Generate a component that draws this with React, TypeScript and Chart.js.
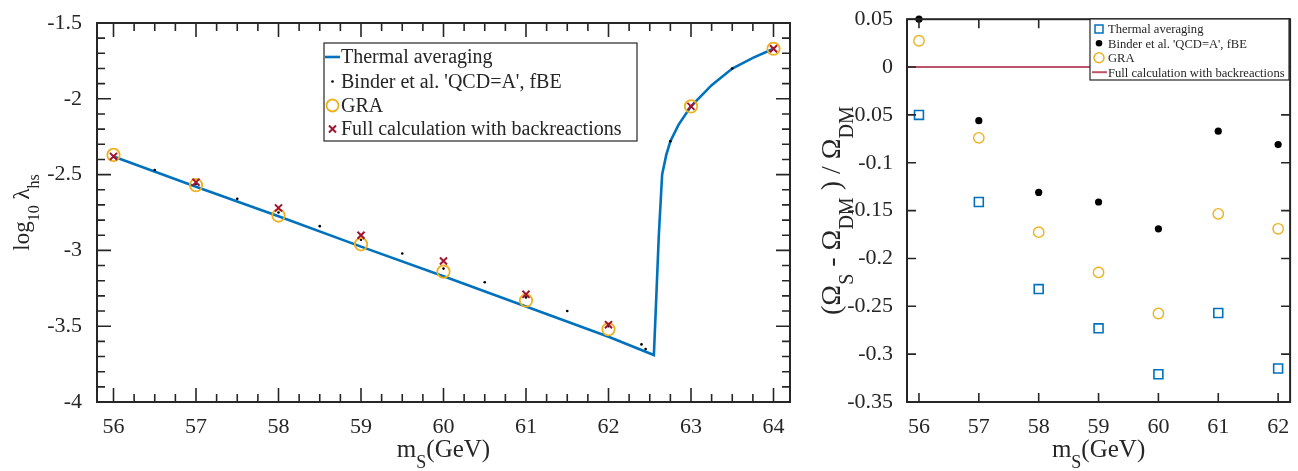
import React, { useEffect, useRef } from "react";
import { Chart, registerables } from "chart.js";

Chart.register(...registerables);

const FONT = '"Liberation Serif", "Times New Roman", serif';
Chart.defaults.font.family = FONT;
const AXIS_COLOR = "#262626";
const BLUE = "#0072BD";
const ORANGE = "#EDB120";
const RED = "#A2142F";
const RED_LINE = "rgba(162,20,47,0.72)";

// ---------- Left panel data ----------
const leftMass = [56, 57, 58, 59, 60, 61, 62, 63, 64];
const thermalMass = [56, 57, 58, 59, 60, 61, 62, 62.55, 62.58, 62.61, 62.65, 62.7, 62.75, 62.85, 63, 63.25, 63.5, 63.75, 64];
const thermalLog = [-2.38, -2.58, -2.775, -2.975, -3.17, -3.37, -3.57, -3.69, -3.3, -2.9, -2.5, -2.37, -2.28, -2.17, -2.05, -1.91, -1.8, -1.73, -1.67];
const binderMass = [56, 56.5, 57, 57.5, 58, 58.5, 59, 59.5, 60, 60.5, 61, 61.5, 62, 62.4, 62.45, 62.75, 63, 63.5, 64];
const binderLog = [-2.38, -2.47, -2.56, -2.66, -2.75, -2.84, -2.93, -3.02, -3.12, -3.21, -3.31, -3.4, -3.5, -3.62, -3.65, -2.28, -2.05, -1.8, -1.67];
const graLog = [-2.37, -2.57, -2.77, -2.96, -3.14, -3.33, -3.52, -2.05, -1.67];
const fullLog = [-2.38, -2.55, -2.72, -2.9, -3.07, -3.29, -3.49, -2.05, -1.67];
const leftXTicks = [56, 57, 58, 59, 60, 61, 62, 63, 64];
const leftYTicks = [-4, -3.5, -3, -2.5, -2, -1.5];

// ---------- Right panel data ----------
const rightMass = [56, 57, 58, 59, 60, 61, 62];
const thermalRel = [-0.05, -0.141, -0.232, -0.273, -0.321, -0.257, -0.315];
const binderRel = [0.05, -0.056, -0.131, -0.141, -0.169, -0.067, -0.081];
const graRel = [0.0275, -0.074, -0.1725, -0.2146, -0.2575, -0.1534, -0.169];
const fullMass = [55.8, 62.2];
const fullRel = [0, 0];
const rightXTicks = [56, 57, 58, 59, 60, 61, 62];
const rightYTicks = [-0.35, -0.3, -0.25, -0.2, -0.15, -0.1, -0.05, 0, 0.05];

type Seg = { t: string; sub?: boolean };

function drawRich(ctx: CanvasRenderingContext2D, segs: Seg[], x: number, y: number, rotate: boolean, size: number, subRatio: number) {
  const subSize = Math.round(size * subRatio);
  const subDrop = size * 0.45;
  ctx.save();
  ctx.translate(x, y);
  if (rotate) ctx.rotate(-Math.PI / 2);
  let total = 0;
  const widths = segs.map((s) => {
    ctx.font = `${s.sub ? subSize : size}px ${FONT}`;
    const w = ctx.measureText(s.t).width;
    total += w;
    return w;
  });
  let cx = -total / 2;
  ctx.fillStyle = AXIS_COLOR;
  ctx.textBaseline = "alphabetic";
  ctx.textAlign = "left";
  segs.forEach((s, i) => {
    ctx.font = `${s.sub ? subSize : size}px ${FONT}`;
    ctx.fillText(s.t, cx, s.sub ? subDrop : 0);
    cx += widths[i];
  });
  ctx.restore();
}

function range(a: number, b: number, step: number) {
  const out: number[] = [];
  for (let v = a; v <= b + 1e-9; v += step) out.push(+v.toFixed(6));
  return out;
}

function makeScale(min: number, max: number, ticks: number[], isX: boolean, size: number, padding: number) {
  return {
    type: "linear" as const,
    min,
    max,
    grid: { display: false },
    border: { display: false },
    ticks: {
      font: { family: FONT, size: 22 },
      color: AXIS_COLOR,
      padding,
      autoSkip: false,
      maxRotation: 0,
      callback: (v: any) => String(v),
    },
    afterBuildTicks: (s: any) => {
      s.ticks = ticks.map((v) => ({ value: v }));
    },
    afterFit: (s: any) => {
      if (isX) s.height = size;
      else s.width = size;
    },
  };
}

type LegendItem = { kind: "line" | "dot" | "circle" | "cross" | "rect"; color: string; label: string; r?: number; lw?: number };

function framePlugin(opts: {
  xMajor: number[];
  yMajor: number[];
  xMinor: number[];
  yMinor: number[];
  majorLen: number;
  minorLen: number;
  legend: { x0: number; y0: number; x1: number; y1: number; markX: number; lineX0: number; lineX1: number; textX: number; rows: number[]; font: number; items: LegendItem[] };
  xTitle: Seg[];
  yTitle: Seg[];
  xTitleY: number;
  yTitleX: number;
  xTitleSize: number;
  yTitleSize: number;
  ySubRatio: number;
}) {
  return {
    id: "frameDecor",
    afterDraw(chart: any) {
      const ctx: CanvasRenderingContext2D = chart.ctx;
      const { left, right, top, bottom } = chart.chartArea;
      const xs = chart.scales.x;
      const ys = chart.scales.y;
      ctx.save();
      ctx.strokeStyle = AXIS_COLOR;
      ctx.lineWidth = 1.6;
      ctx.beginPath();
      const tick = (vals: number[], len: number, isX: boolean) => {
        vals.forEach((v) => {
          if (isX) {
            const p = xs.getPixelForValue(v);
            ctx.moveTo(p, bottom);
            ctx.lineTo(p, bottom - len);
            ctx.moveTo(p, top);
            ctx.lineTo(p, top + len);
          } else {
            const p = ys.getPixelForValue(v);
            ctx.moveTo(left, p);
            ctx.lineTo(left + len, p);
            ctx.moveTo(right, p);
            ctx.lineTo(right - len, p);
          }
        });
      };
      tick(opts.xMajor, opts.majorLen, true);
      tick(opts.yMajor, opts.majorLen, false);
      tick(opts.xMinor, opts.minorLen, true);
      tick(opts.yMinor, opts.minorLen, false);
      ctx.stroke();
      ctx.lineWidth = 2;
      ctx.strokeRect(left, top, right - left, bottom - top);

      // legend
      const L = opts.legend;
      ctx.fillStyle = "#ffffff";
      ctx.fillRect(L.x0, L.y0, L.x1 - L.x0, L.y1 - L.y0);
      ctx.lineWidth = 1.2;
      ctx.strokeStyle = AXIS_COLOR;
      ctx.strokeRect(L.x0, L.y0, L.x1 - L.x0, L.y1 - L.y0);
      L.items.forEach((it, i) => {
        const y = L.rows[i];
        const x = L.markX;
        const r = it.r || 3;
        ctx.lineWidth = it.lw || 1.5;
        ctx.strokeStyle = it.color;
        ctx.fillStyle = it.color;
        if (it.kind === "line") {
          ctx.beginPath();
          ctx.moveTo(L.lineX0, y);
          ctx.lineTo(L.lineX1, y);
          ctx.stroke();
        } else if (it.kind === "dot") {
          ctx.beginPath();
          ctx.arc(x, y, r, 0, Math.PI * 2);
          ctx.fill();
        } else if (it.kind === "circle") {
          ctx.beginPath();
          ctx.arc(x, y, r, 0, Math.PI * 2);
          ctx.stroke();
        } else if (it.kind === "cross") {
          ctx.beginPath();
          ctx.moveTo(x - r, y - r);
          ctx.lineTo(x + r, y + r);
          ctx.moveTo(x - r, y + r);
          ctx.lineTo(x + r, y - r);
          ctx.stroke();
        } else if (it.kind === "rect") {
          ctx.strokeRect(x - r, y - r, 2 * r, 2 * r);
        }
        ctx.fillStyle = AXIS_COLOR;
        ctx.font = `${L.font}px ${FONT}`;
        ctx.textBaseline = "middle";
        ctx.textAlign = "left";
        ctx.fillText(it.label, L.textX, y + 1);
      });
      ctx.restore();

      drawRich(ctx, opts.xTitle, (left + right) / 2, opts.xTitleY, false, opts.xTitleSize, 0.72);
      drawRich(ctx, opts.yTitle, opts.yTitleX, (top + bottom) / 2, true, opts.yTitleSize, opts.ySubRatio);
    },
  };
}

function pts(xs: number[], ys: number[]) {
  return xs.map((x, i) => ({ x, y: ys[i] }));
}

function LeftChart() {
  const ref = useRef<HTMLCanvasElement>(null);
  useEffect(() => {
    const chart = new Chart(ref.current!, {
      type: "scatter",
      data: {
        datasets: [
          {
            data: pts(thermalMass, thermalLog),
            showLine: true,
            borderColor: BLUE,
            borderWidth: 2.6,
            pointRadius: 0,
            tension: 0,
            order: 3,
          },
          {
            data: pts(binderMass, binderLog),
            pointRadius: 1.3,
            backgroundColor: "#000",
            borderWidth: 0,
            pointBorderWidth: 0,
            order: 2,
            clip: false,
          },
          {
            data: pts(leftMass, graLog),
            pointStyle: "circle",
            pointRadius: 6.2,
            backgroundColor: "rgba(0,0,0,0)",
            borderColor: ORANGE,
            pointBorderWidth: 1.8,
            order: 1,
            clip: false,
          },
          {
            data: pts(leftMass, fullLog),
            pointStyle: "crossRot",
            pointRadius: 5,
            borderColor: RED,
            pointBorderWidth: 2,
            order: 0,
            clip: false,
          },
        ] as any,
      },
      options: {
        responsive: false,
        animation: false,
        events: [],
        layout: { padding: { top: 23, right: 10, left: 0, bottom: 0 } },
        plugins: { legend: { display: false }, tooltip: { enabled: false } },
        scales: {
          x: makeScale(55.8, 64.2, leftXTicks, true, 69, 4),
          y: makeScale(-4, -1.5, leftYTicks, false, 97, 7),
        } as any,
      },
      plugins: [
        framePlugin({
          xMajor: leftXTicks,
          yMajor: leftYTicks,
          xMinor: range(56, 64, 0.25),
          yMinor: range(-4, -1.5, 0.1),
          majorLen: 14,
          minorLen: 8,
          legend: {
            x0: 324,
            y0: 43,
            x1: 637,
            y1: 141,
            markX: 332.5,
            lineX0: 325,
            lineX1: 340,
            textX: 341,
            rows: [57, 81.5, 105.5, 129],
            font: 20,
            items: [
              { kind: "line", color: BLUE, label: "Thermal averaging", lw: 2.6 },
              { kind: "dot", color: "#000", label: "Binder et al. 'QCD=A', fBE", r: 1.3 },
              { kind: "circle", color: ORANGE, label: "GRA", r: 6, lw: 1.8 },
              { kind: "cross", color: RED, label: "Full calculation with backreactions", r: 3.5, lw: 2 },
            ],
          },
          xTitle: [{ t: "m" }, { t: "S", sub: true }, { t: "(GeV)" }],
          yTitle: [{ t: "log" }, { t: "10", sub: true }, { t: " λ" }, { t: "hs", sub: true }],
          xTitleY: 457,
          yTitleX: 29,
          xTitleSize: 25,
          yTitleSize: 23,
          ySubRatio: 0.68,
        }) as any,
      ],
    });
    return () => chart.destroy();
  }, []);
  return <canvas ref={ref} width={800} height={471} style={{ position: "absolute", left: 0, top: 0, width: 800, height: 471 }} />;
}

function RightChart() {
  const ref = useRef<HTMLCanvasElement>(null);
  useEffect(() => {
    const chart = new Chart(ref.current!, {
      type: "scatter",
      data: {
        datasets: [
          {
            data: pts(fullMass, fullRel),
            showLine: true,
            borderColor: RED_LINE,
            borderWidth: 2,
            pointRadius: 0,
            order: 3,
          },
          {
            data: pts(rightMass, thermalRel),
            pointStyle: "rect",
            pointRadius: 6.3,
            backgroundColor: "rgba(0,0,0,0)",
            borderColor: BLUE,
            pointBorderWidth: 1.6,
            order: 2,
            clip: false,
          },
          {
            data: pts(rightMass, binderRel),
            pointStyle: "circle",
            pointRadius: 3.6,
            backgroundColor: "#000",
            borderColor: "#000",
            pointBorderWidth: 0,
            order: 1,
            clip: false,
          },
          {
            data: pts(rightMass, graRel),
            pointStyle: "circle",
            pointRadius: 5.2,
            backgroundColor: "rgba(0,0,0,0)",
            borderColor: ORANGE,
            pointBorderWidth: 1.4,
            order: 0,
            clip: false,
          },
        ] as any,
      },
      options: {
        responsive: false,
        animation: false,
        events: [],
        layout: { padding: { top: 16, right: 6, left: 0, bottom: 0 } },
        plugins: { legend: { display: false }, tooltip: { enabled: false } },
        scales: {
          x: makeScale(55.8, 62.2, rightXTicks, true, 69, 4),
          y: makeScale(-0.35, 0.05, rightYTicks, false, 107, 6),
        } as any,
      },
      plugins: [
        framePlugin({
          xMajor: rightXTicks,
          yMajor: rightYTicks,
          xMinor: [],
          yMinor: [],
          majorLen: 9,
          minorLen: 0,
          legend: {
            x0: 290,
            y0: 19,
            x1: 489,
            y1: 80,
            markX: 299,
            lineX0: 292,
            lineX1: 307,
            textX: 308,
            rows: [29, 43.3, 57.7, 72.2],
            font: 12.6,
            items: [
              { kind: "rect", color: BLUE, label: "Thermal averaging", r: 4, lw: 1.5 },
              { kind: "dot", color: "#000", label: "Binder et al. 'QCD=A', fBE", r: 3.3 },
              { kind: "circle", color: ORANGE, label: "GRA", r: 5, lw: 1.5 },
              { kind: "line", color: RED_LINE, label: "Full calculation with backreactions", lw: 2 },
            ],
          },
          xTitle: [{ t: "m" }, { t: "S", sub: true }, { t: "(GeV)" }],
          yTitle: [
            { t: "(Ω" },
            { t: "S", sub: true },
            { t: " - Ω" },
            { t: "DM", sub: true },
            { t: " ) / Ω" },
            { t: "DM", sub: true },
          ],
          xTitleY: 457,
          yTitleX: 40,
          xTitleSize: 25,
          yTitleSize: 28,
          ySubRatio: 0.72,
        }) as any,
      ],
    });
    return () => chart.destroy();
  }, []);
  return <canvas ref={ref} width={498} height={471} style={{ position: "absolute", left: 800, top: 0, width: 498, height: 471 }} />;
}

export default function App() {
  return (
    <div style={{ position: "fixed", left: 0, top: 0, width: 1298, height: 471, background: "#fff", overflow: "hidden" }}>
      <LeftChart />
      <RightChart />
    </div>
  );
}
